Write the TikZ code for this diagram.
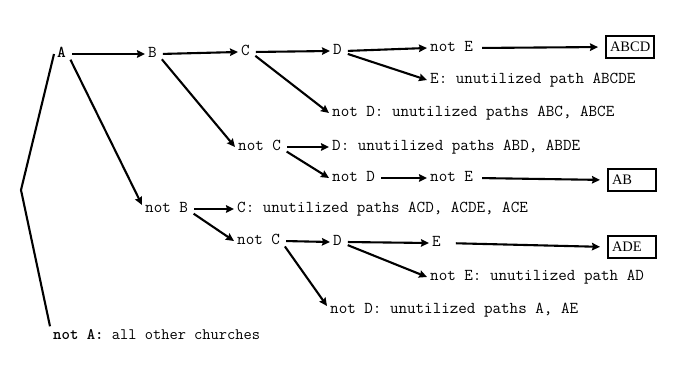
\documentclass[tikz,border=0pt]{standalone}
\usepackage{fontspec}
\newfontfamily\boxfont{Liberation Serif}
\usetikzlibrary{arrows.meta}
\begin{document}
\begin{tikzpicture}[x=1pt,y=-1pt,
 lbl/.style={anchor=west, inner sep=3pt, text height=10pt, text depth=3pt, font=\ttfamily\fontsize{16.6}{18}\selectfont},
 res/.style={draw, line width=2pt, anchor=west, text width=40pt, align=left, inner xsep=4pt, minimum height=22pt, font=\boxfont\fontsize{14.5}{16}\selectfont},
 arr/.style={line width=2.1pt, shorten <=3pt, -{Stealth[length=8pt,width=7.5pt,inset=1pt]}},
 long/.style={arr, shorten <=6pt, shorten >=7pt},
 brk/.style={line width=2.1pt}]
\useasboundingbox (0,0) rectangle (691,371);
\node[lbl] (A) at (54,54) {\textbf{A}};
\node[lbl] (B) at (145,54) {B};
\node[lbl] (C) at (238,52) {C};
\node[lbl] (D1) at (330,51) {D};
\node[lbl] (nE1) at (427,48) {not E};
\node[res] (ABCD) at (605,47) {ABCD};
\node[lbl] (E1) at (427,80) {E: unutilized path ABCDE};
\node[lbl] (nD1) at (329,113) {not D: unutilized paths ABC, ABCE};
\node[lbl] (nC1) at (235,147) {not C};
\node[lbl] (D2) at (329,147) {D: unutilized paths ABD, ABDE};
\node[lbl] (nD2) at (329,178) {not D};
\node[lbl] (nE2) at (427,178) {not E};
\node[res] (AB) at (607,180) {AB};
\node[lbl] (nB) at (142,209) {not B};
\node[lbl] (C3) at (234,209) {C: unutilized paths ACD, ACDE, ACE};
\node[lbl] (nC2) at (234,241) {not C};
\node[lbl] (D3) at (330,242) {D};
\node[lbl] (E3) at (429,243) {E};
\node[res] (ADE) at (607,247) {ADE};
\node[lbl] (nE3) at (427,277) {not E: unutilized path AD};
\node[lbl] (nD3) at (327,310) {not D: unutilized paths A, AE};
\node[lbl,font=\ttfamily\fontsize{16}{18}\selectfont] (nA) at (50,336) {\textbf{not A:} all other churches};
\coordinate (apex) at (21,190);
% bracket
\draw[brk] (A.west) -- (apex) -- (nA.north west);
% arrows
\draw[arr] (A.east) -- (B.west);
\draw[arr] ([yshift=-3pt]A.east) -- ([yshift=4pt]nB.west);
\draw[arr] (B.east) -- (C.west);
\draw[arr] ([yshift=-3pt]B.east) -- (nC1.west);
\draw[arr] (C.east) -- (D1.west);
\draw[arr] ([yshift=-2pt]C.east) -- (nD1.west);
\draw[arr] (D1.east) -- (nE1.west);
\draw[arr] ([yshift=-2pt]D1.east) -- (E1.west);
\draw[long] (nE1.east) -- (ABCD.west);
\draw[arr] (nC1.east) -- (D2.west);
\draw[arr] ([yshift=-3pt]nC1.east) -- (nD2.west);
\draw[arr] (nD2.east) -- (nE2.west);
\draw[long] (nE2.east) -- (AB.west);
\draw[arr] (nB.east) -- (C3.west);
\draw[arr] ([yshift=-3pt]nB.east) -- (nC2.west);
\draw[arr] (nC2.east) -- (D3.west);
\draw[arr] ([yshift=-3pt]nC2.east) -- ([yshift=4pt]nD3.west);
\draw[arr] (D3.east) -- (E3.west);
\draw[arr] ([yshift=-2pt]D3.east) -- (nE3.west);
\draw[long, shorten <=12pt] (E3.east) -- (ADE.west);
\end{tikzpicture}
\end{document}
